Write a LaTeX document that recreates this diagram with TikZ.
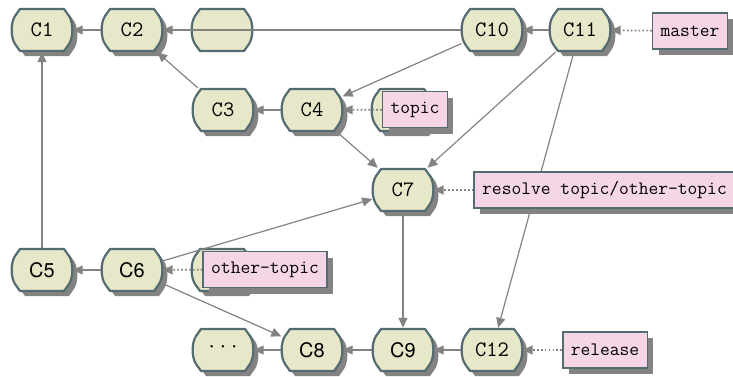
\documentclass[tikz,border=0pt]{standalone}
\usepackage{fontspec}
\newfontfamily\herosfont{TeX Gyre Heros}
\usetikzlibrary{arrows.meta,shadows}
\pgfdeclarelayer{bottom}
\pgfdeclarelayer{edges}
\pgfsetlayers{bottom,edges,main}
\definecolor{cfill}{HTML}{E6E8C9}
\definecolor{cborder}{HTML}{546C71}
\definecolor{lfill}{HTML}{F5D6E6}
\definecolor{shadowgray}{HTML}{838383}
\definecolor{edgegray}{HTML}{838383}
\tikzset{
  cnode/.style={rectangle,inner sep=0pt,minimum width=61pt,minimum height=44pt,
    font=\ttfamily\fontsize{22}{24}\selectfont},
  sansnode/.style={cnode,font=\herosfont\fontsize{20}{24}\selectfont},
  cshapestyle/.style={fill=cfill,draw=cborder,line width=2.2pt,line join=round},
  branch/.style={rectangle,fill=lfill,draw=cborder,line width=1.5pt,
    minimum height=36pt,inner xsep=8pt,inner ysep=0pt,
    font=\ttfamily\fontsize{19}{22}\selectfont,
    general shadow={fill=shadowgray,shadow xshift=6pt,shadow yshift=-6pt}},
  edge/.style={draw=edgegray,line width=1.2pt,-{Triangle[length=10pt,width=9pt]}},
  refedge/.style={draw=edgegray,line width=1.7pt,dash pattern=on 1.7pt off 2.2pt,
    -{Triangle[length=10pt,width=9pt]}},
}
% #1 shadow (1 or 0), #2 position
\newcommand\commitshape[2]{%
  \begin{scope}[shift={#2}]
    \ifnum#1=1
    \fill[shadowgray,shift={(5,5)}] (-22,-21) -- (22,-21) -- (27,-14) .. controls (31.5,-7) and (31.5,7) .. (27,14) -- (22,21) -- (-22,21) -- (-27,14) .. controls (-31.5,7) and (-31.5,-7) .. (-27,-14) -- cycle;
    \fi
    \path[cshapestyle] (-22,-21) -- (22,-21) -- (27,-14) .. controls (31.5,-7) and (31.5,7) .. (27,14) -- (22,21) -- (-22,21) -- (-27,14) .. controls (-31.5,7) and (-31.5,-7) .. (-27,-14) -- cycle;
  \end{scope}}
\newcommand\commit[4][cnode]{%
  \commitshape{1}{#3}
  \node[#1] (#2) at #3 {#4};}
\begin{document}
\begin{tikzpicture}[x=1pt,y=-1pt]
\useasboundingbox (0,0) rectangle (733,376);
% nodes
\commit{C1}{(42,30)}{C1}
\commit{C2}{(132,30)}{C2}
\begin{pgfonlayer}{bottom}
  \commitshape{0}{(222,30)}
  \node[cnode] (E1) at (222,30) {};
  \commitshape{1}{(402,110)}
  \node[cnode] (E2) at (402,110) {};
  \commitshape{1}{(222,270)}
  \node[cnode] (E3) at (222,270) {};
\end{pgfonlayer}
\commit{C10}{(492,30)}{C10}
\commit{C11}{(580,30)}{C11}
\commit{C3}{(223,110)}{C3}
\commit{C4}{(312,110)}{C4}
\commit{C7}{(403,190)}{C7}
\commit[sansnode]{C5}{(42,270)}{C5}
\commit[sansnode]{C6}{(132,270)}{C6}
\commit{dots}{(223,350)}{···}
\commit[sansnode]{C8}{(312,350)}{C8}
\commit[sansnode]{C9}{(403,350)}{C9}
\commit{C12}{(492,350)}{C12}
% labels
\node[branch] (master) at (690,31) {master};
\node[branch] (topic) at (415,109.5) {topic};
\node[branch] (resolve) at (604.5,190) {resolve topic/other-topic};
\node[branch] (othertopic) at (265,269.5) {other-topic};
\node[branch] (release) at (605,350) {release};
% edges
\begin{pgfonlayer}{edges}
\draw[edge] (C2) -- (C1);
\draw[edge] (C10) -- (C2);
\draw[edge] (C3) -- (C2);
\draw[edge] (C4) -- (C3);
\draw[edge] (C10) -- (C4);
\draw[edge] (C4) -- (C7);
\draw[edge] (C11) -- (C10);
\draw[edge] (C11) -- (C7);
\draw[edge] (C11) -- (C12);
\draw[edge] (C7) -- (C9);
\draw[edge] (C6) -- (C5);
\draw[edge] (C5) -- (C1);
\draw[edge] (C6) -- (C7);
\draw[edge] (C6) -- (C8);
\draw[edge] (C8) -- (dots);
\draw[edge] (C9) -- (C8);
\draw[edge] (C12) -- (C9);
\draw[refedge] (master) -- (C11);
\draw[refedge] (topic) -- (C4);
\draw[refedge] (resolve) -- (C7);
\draw[refedge] (othertopic) -- (C6);
\draw[refedge] (release) -- (C12);
\end{pgfonlayer}
\end{tikzpicture}
\end{document}
